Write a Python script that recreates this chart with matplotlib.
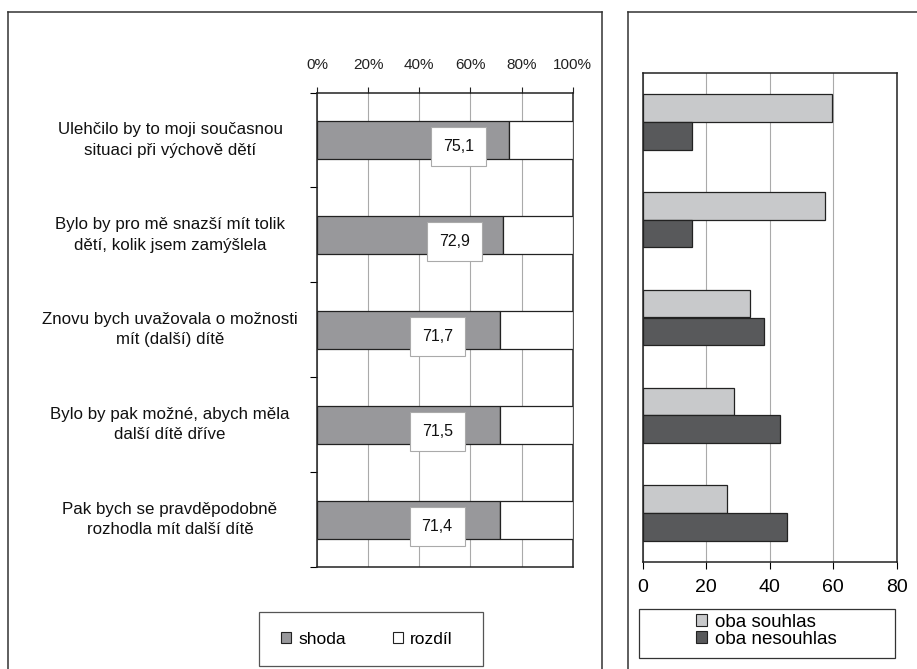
import matplotlib
matplotlib.use("Agg")
import matplotlib.pyplot as plt
import matplotlib.transforms as mtransforms
from matplotlib.lines import Line2D
from matplotlib.patches import Patch, Rectangle
import numpy as np

plt.rcParams["font.family"] = ["Liberation Sans", "DejaVu Sans"]

# --- data -------------------------------------------------------------
categories = [
    "Ulehčilo by to moji současnou\nsituaci při výchově dětí",
    "Bylo by pro mě snazší mít tolik\ndětí, kolik jsem zamýšlela",
    "Znovu bych uvažovala o možnosti\nmít (další) dítě",
    "Bylo by pak možné, abych měla\ndalší dítě dříve",
    "Pak bych se pravděpodobně\nrozhodla mít další dítě",
]
shoda = [75.1, 72.9, 71.7, 71.5, 71.4]
pct_ticks = [0, 20, 40, 60, 80, 100]
pct_labels = ["0%", "20%", "40%", "60%", "80%", "100%"]

oba_souhlas = [59.7, 57.4, 33.8, 28.8, 26.7]
oba_nesouhlas = [15.6, 15.6, 38.3, 43.2, 45.5]
num_ticks = [0, 20, 40, 60, 80]

# where the value boxes sit along the bar (percent units)
label_x = [55.5, 53.7, 47.0, 47.0, 47.0]

W, H = 917, 669
fig = plt.figure(figsize=(W / 100, H / 100), dpi=100)


def fx(px):
    return px / W


def fy(py):
    return 1 - py / H


def fig_box(x0, y0, x1, y1, color):
    fig.add_artist(Rectangle((fx(x0), fy(y1)), fx(x1) - fx(x0), fy(y0) - fy(y1),
                             transform=fig.transFigure, facecolor="white",
                             edgecolor=color, linewidth=0.9, zorder=1))


# outer frames
frame_kw = dict(color="#333333", linewidth=1.1, transform=fig.transFigure)
fig.add_artist(Line2D([fx(8), fx(8)], [fy(12), 0], **frame_kw))
fig.add_artist(Line2D([fx(8), fx(602)], [fy(12), fy(12)], **frame_kw))
fig.add_artist(Line2D([fx(602), fx(602)], [fy(12), 0], **frame_kw))
fig.add_artist(Line2D([fx(628), fx(628)], [fy(12), 0], **frame_kw))
fig.add_artist(Line2D([fx(628), 1], [fy(12), fy(12)], **frame_kw))

# --- left panel: stacked 100 % bars ----------------------------------
ax = fig.add_axes([fx(317), fy(567), fx(572.7) - fx(317), fy(92.5) - fy(567)])
y = np.arange(len(categories))
rozdil = [100 - v for v in shoda]
ax.barh(y, shoda, height=0.4, color="#98989b", edgecolor="#222222",
        linewidth=0.9, zorder=3)
ax.barh(y, rozdil, left=shoda, height=0.4, color="white",
        edgecolor="#222222", linewidth=0.9, zorder=3)
ax.set_xlim(0, 100)
ax.set_ylim(len(categories) - 0.5, -0.5)
ax.xaxis.tick_top()
ax.set_xticks(pct_ticks)
ax.set_xticklabels(pct_labels, fontsize=11)
ax.tick_params(axis="x", direction="out", length=4, width=0.8, pad=11,
               colors="#222222")
ax.set_yticks(np.arange(len(categories) + 1) - 0.5)
ax.set_yticklabels([])
ax.tick_params(axis="y", direction="out", length=5, width=0.8)
ax.grid(axis="x", color="#aaaaaa", linewidth=0.8, zorder=0)
for s in ax.spines.values():
    s.set_color("#222222")
    s.set_linewidth(1.1)

trans = mtransforms.blended_transform_factory(fig.transFigure, ax.transData)
for i, cat in enumerate(categories):
    ax.text(fx(170), i, cat, transform=trans, ha="center", va="center",
            multialignment="center", fontsize=12.2, linespacing=1.45,
            color="#111111")
    ax.text(label_x[i], i + 0.07, f"{shoda[i]:.1f}".replace(".", ","),
            ha="center", va="center", fontsize=11.5, zorder=5,
            color="#111111",
            bbox=dict(boxstyle="square,pad=0.75", facecolor="white",
                      edgecolor="#aaaaaa", linewidth=0.8))

# legend boxes drawn by hand, legends placed inside without frames
fig_box(259, 612, 483, 666, "#555555")
fig.legend(
    handles=[Patch(facecolor="#98989b", edgecolor="#222222", linewidth=0.8),
             Patch(facecolor="white", edgecolor="#222222", linewidth=0.8)],
    labels=["shoda", "rozdíl"], ncol=2, loc="center left",
    bbox_to_anchor=(fx(281), fy(639)), fontsize=12.5, frameon=False,
    handlelength=0.6, handleheight=0.6, handletextpad=0.4,
    columnspacing=2.7, borderpad=0, borderaxespad=0)

# --- right panel: grouped bars ----------------------------------------
ax2 = fig.add_axes([fx(642.7), fy(562), fx(896.7) - fx(642.7), fy(73) - fy(562)])
bh = 0.283
ax2.barh(y - bh / 2, oba_souhlas, height=bh, color="#c8c9cb",
         edgecolor="#222222", linewidth=0.9, zorder=3)
ax2.barh(y + bh / 2, oba_nesouhlas, height=bh, color="#58595b",
         edgecolor="#222222", linewidth=0.9, zorder=3)
ax2.set_xlim(0, 80)
ax2.set_ylim(len(categories) - 0.5, -0.5)
ax2.set_xticks(num_ticks)
ax2.set_xticklabels([str(t) for t in num_ticks], fontsize=14)
ax2.tick_params(axis="x", direction="out", length=5, width=0.8, pad=7)
ax2.set_yticks([])
ax2.grid(axis="x", color="#aaaaaa", linewidth=0.8, zorder=0)
for s in ax2.spines.values():
    s.set_color("#222222")
    s.set_linewidth(1.1)

fig_box(639, 609, 895, 658, "#333333")
fig.legend(
    handles=[Patch(facecolor="#c8c9cb", edgecolor="#222222", linewidth=0.8),
             Patch(facecolor="#58595b", edgecolor="#222222", linewidth=0.8)],
    labels=["oba souhlas", "oba nesouhlas"], loc="center left",
    bbox_to_anchor=(fx(696), fy(631)), fontsize=13.5, frameon=False,
    handlelength=0.6, handleheight=0.6, handletextpad=0.4,
    labelspacing=0.0, borderpad=0, borderaxespad=0)

fig.savefig("out.png", dpi=100)
